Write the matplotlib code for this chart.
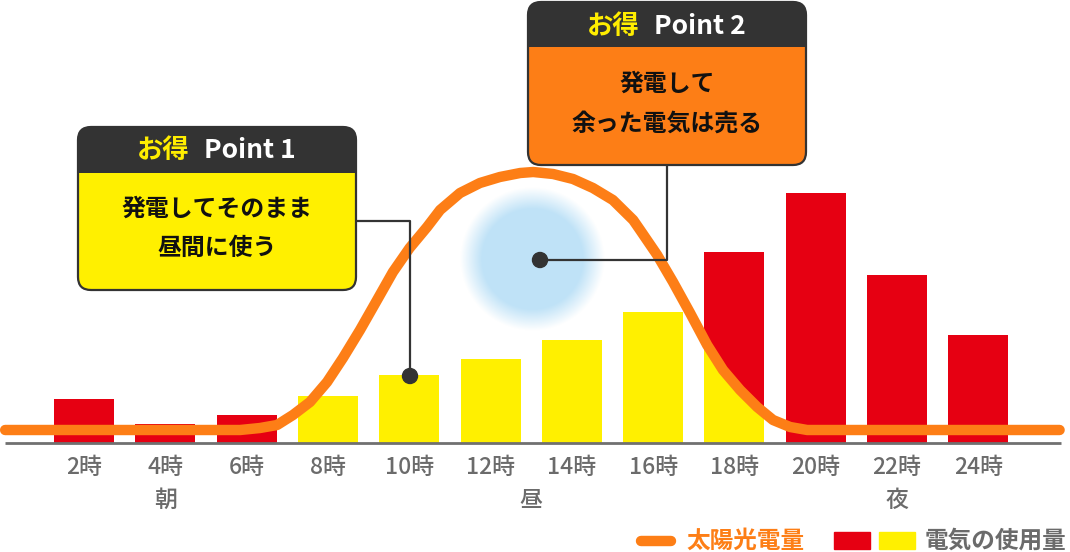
import numpy as np
import matplotlib
matplotlib.use('Agg')
import matplotlib.pyplot as plt
from matplotlib.patches import FancyBboxPatch, Rectangle, Polygon, Circle
from matplotlib.transforms import Affine2D
from matplotlib.lines import Line2D

plt.rcParams['font.family'] = ['Noto Sans CJK JP', 'DejaVu Sans']

# --- data ---
hours = [2, 4, 6, 8, 10, 12, 14, 16, 18, 20, 22, 24]
hour_labels = [f'{h}時' for h in hours]
usage = [4.4, 1.9, 2.8, 4.7, 6.8, 8.4, 10.3, 13.1, 19.1, 25.0, 16.8, 10.8]
# 'buy' = bought from grid, 'self' = covered by solar, 'mixed' = partly covered
usage_kind = ['buy', 'buy', 'buy', 'self', 'self', 'self', 'self', 'self', 'mixed', 'buy', 'buy', 'buy']
solar_h = [0.06, 5.84, 6.33, 6.75, 7.14, 7.56, 7.98, 8.37, 8.79, 9.21, 9.6, 10.01, 10.44,
           10.76, 11.25, 11.74, 12.23, 12.73, 13.05, 13.54, 14.03, 14.52, 15.01, 15.51,
           15.68, 16.1, 16.49, 16.91, 17.33, 17.72, 18.14, 18.56, 18.95, 19.37, 19.79,
           20.6, 26.0]
solar_v = [1.3, 1.3, 1.5, 1.8, 2.8, 4.1, 6.1, 8.5, 11.3, 14.3, 17.1, 19.5, 21.6,
           23.3, 25.0, 26.0, 26.6, 27.0, 27.1, 26.9, 26.4, 25.5, 24.3, 22.3,
           21.3, 18.8, 16.1, 13.0, 9.8, 7.3, 5.3, 3.6, 2.3, 1.6, 1.3,
           1.3, 1.3]
period_labels = ['朝', '昼', '夜']
period_pos = [4, 13, 22]

RED = '#e60012'
YELLOW = '#fff000'
ORANGE = '#fd7e16'
DARK = '#333333'
GRAY = '#6b6b6b'

W, H = 1070, 552
fig = plt.figure(figsize=(W / 100, H / 100), dpi=100)
ax = fig.add_axes([0, 0, 1, 1])
ax.set_xlim(2 - 84 / 40.65, 2 + (W - 84) / 40.65)
ax.set_ylim(-(H - 443) / 10, 44.3)
ax.axis('off')

# pixel transform (origin top-left)
px = Affine2D().scale(1 / 100, -1 / 100).translate(0, H / 100) + fig.dpi_scale_trans

def to_data(x, y):
    return 2 + (x - 84) / 40.65, (443 - y) / 10

# soft blue glow
r = 72
gy, gx = np.mgrid[-1:1:200j, -1:1:200j]
d = np.sqrt(gx ** 2 + gy ** 2)
alpha = np.clip((1 - d) / 0.3, 0, 1)
img = np.zeros((200, 200, 4))
img[..., 0], img[..., 1], img[..., 2] = 0.75, 0.89, 0.97
img[..., 3] = alpha
x0, y0 = to_data(532 - r, 259 + r)
x1, y1 = to_data(532 + r, 259 - r)
ax.imshow(img, extent=[x0, x1, y0, y1], aspect='auto', zorder=1, interpolation='bilinear')

# bars
bw = 60 / 40.65
under_curve = Polygon(list(zip(solar_h, solar_v)) + [(solar_h[-1], 0), (solar_h[0], 0)],
                      closed=True, facecolor='none', edgecolor='none')
ax.add_patch(under_curve)
for h, v, k in zip(hours, usage, usage_kind):
    if k == 'self':
        ax.bar(h, v, width=bw, color=YELLOW, zorder=2)
    else:
        ax.bar(h, v, width=bw, color=RED, zorder=2)
        if k == 'mixed':
            b = ax.bar(h, v, width=bw, color=YELLOW, zorder=2.1)
            for p in b:
                p.set_clip_path(under_curve)

# axis line
xa0, _ = to_data(5, 0)
xa1, _ = to_data(1061, 0)
ax.plot([xa0, xa1], [0, 0], color='#707070', lw=2, zorder=3, solid_capstyle='butt')

# solar curve
ax.plot(solar_h, solar_v, color=ORANGE, lw=7.5, zorder=4, solid_capstyle='round',
        solid_joinstyle='round')

# tick labels
for h, lab in zip(hours, hour_labels):
    ax.text(h, -2.45, lab, ha='center', va='center', fontsize=16.5, color=GRAY, fontweight='medium')
for p, lab in zip(period_pos, period_labels):
    ax.text(p, -5.75, lab, ha='center', va='center', fontsize=16.5, color=GRAY, fontweight='medium')

# callout boxes
def callout(x, y, w, h, hh, body_color, num, lines, title_y, line_ys, split_x):
    body = FancyBboxPatch((x, y), w, h, boxstyle='round,pad=0,rounding_size=13',
                          facecolor=body_color, edgecolor='none', transform=px, zorder=5)
    fig.add_artist(body)
    head = FancyBboxPatch((x, y), w, hh, boxstyle='round,pad=0,rounding_size=13',
                          facecolor=DARK, edgecolor='none', transform=px, zorder=5.1)
    fig.add_artist(head)
    fig.add_artist(Rectangle((x, y + hh / 2), w, hh / 2, facecolor=DARK, edgecolor='none',
                             transform=px, zorder=5.1))
    border = FancyBboxPatch((x, y), w, h, boxstyle='round,pad=0,rounding_size=13',
                            facecolor='none', edgecolor=DARK, lw=1.6, transform=px, zorder=5.2)
    fig.add_artist(border)
    fig.text(split_x - 14, title_y, 'お得', transform=px, ha='right', va='center',
             fontsize=19, fontweight='bold', color='#ffed00', zorder=6)
    fig.text(split_x, title_y, f'Point {num}', transform=px, ha='left', va='center',
             fontsize=19, fontweight='bold', color='white', zorder=6)
    for t, ly in zip(lines, line_ys):
        fig.text(x + w / 2, ly, t, transform=px, ha='center', va='center',
                 fontsize=17.2, fontweight='bold', color='#111111', zorder=6)

callout(78, 127, 278, 163, 46, YELLOW, 1, ['発電してそのまま', '昼間に使う'], 151, [209, 248], 204)
callout(528, 2, 278, 163, 45, ORANGE, 2, ['発電して', '余った電気は売る'], 26, [84, 124], 654)

# connector lines
fig.add_artist(Line2D([356, 410, 410], [221, 221, 376], color=DARK, lw=1.6, transform=px, zorder=4.5))
fig.add_artist(Line2D([667, 667, 540], [165, 260, 260], color=DARK, lw=1.6, transform=px, zorder=4.5))
fig.add_artist(Circle((410, 376), 7.5, color=DARK, transform=px, zorder=7))
fig.add_artist(Circle((540, 260), 7.5, color=DARK, transform=px, zorder=7))

# legend
fig.add_artist(Line2D([641, 671], [541, 541], color=ORANGE, lw=7.5, solid_capstyle='round',
                      transform=px, zorder=5))
fig.text(686, 541, '太陽光電量', transform=px, ha='left', va='center', fontsize=17,
         fontweight='bold', color=ORANGE)
fig.add_artist(Rectangle((834, 532), 36, 17, color=RED, transform=px))
fig.add_artist(Rectangle((879, 532), 36, 17, color=YELLOW, transform=px))
fig.text(925, 541, '電気の使用量', transform=px, ha='left', va='center', fontsize=17,
         fontweight='bold', color=GRAY)

fig.savefig('out.png', dpi=100)
